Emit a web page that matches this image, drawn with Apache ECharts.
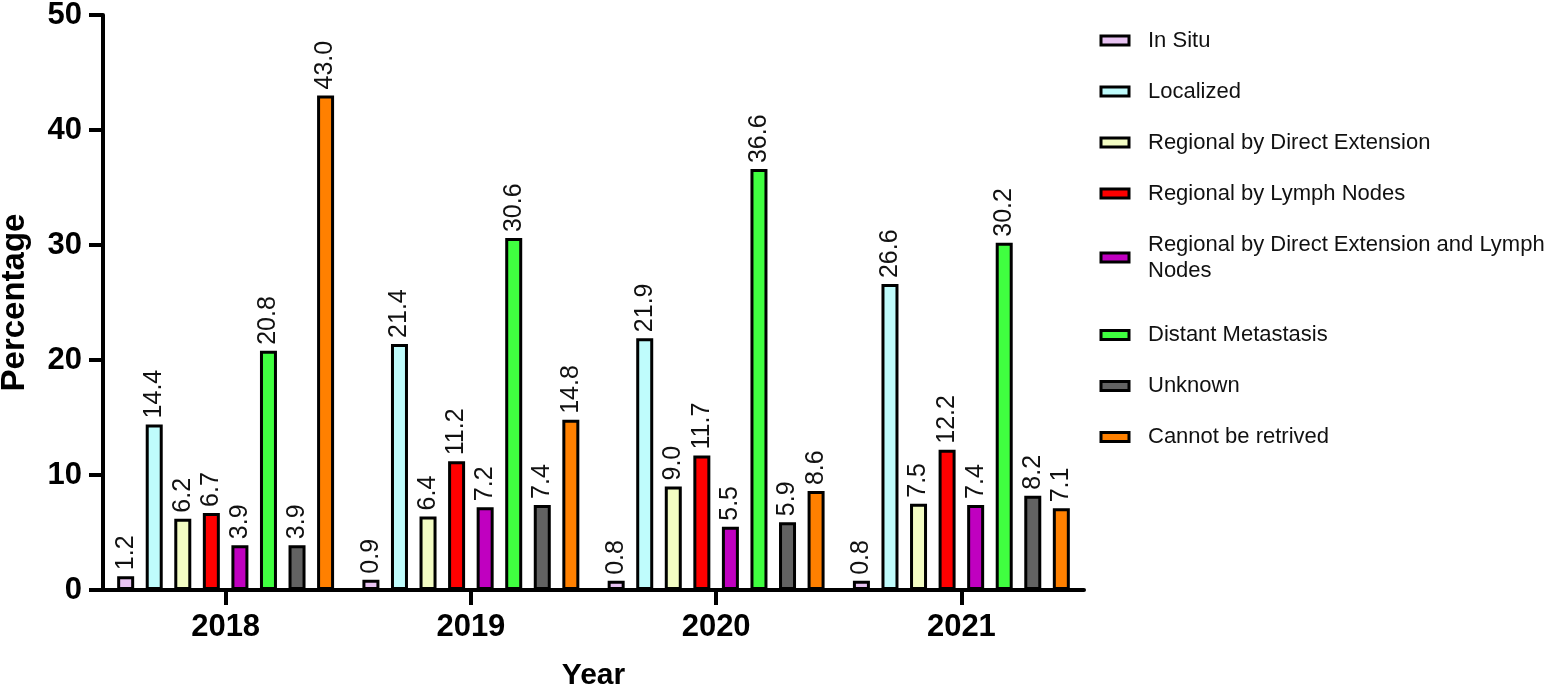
<!DOCTYPE html>
<html lang="en">
  <head>
    <meta charset="UTF-8" />
    <title>Stage by year</title>
    <script src="https://cdn.jsdelivr.net/npm/echarts@6/dist/echarts.min.js"></script>
    <style>
      html, body { margin: 0; padding: 0; background: #fff; }
      #main { width: 1556px; height: 695px; }
    </style>
  </head>
  <body>
    <div id="main"></div>
    <script>
      // data
      var years = ["2018", "2019", "2020", "2021"];
      var stages = [
        "In Situ",
        "Localized",
        "Regional by Direct Extension",
        "Regional by Lymph Nodes",
        "Regional by Direct Extension and Lymph Nodes",
        "Distant Metastasis",
        "Unknown",
        "Cannot be retrived",
      ];
      var inSitu = [1.2, 0.9, 0.8, 0.8];
      var localized = [14.4, 21.4, 21.9, 26.6];
      var regionalDirect = [6.2, 6.4, 9.0, 7.5];
      var regionalLymph = [6.7, 11.2, 11.7, 12.2];
      var regionalBoth = [3.9, 7.2, 5.5, 7.4];
      var distant = [20.8, 30.6, 36.6, 30.2];
      var unknown = [3.9, 7.4, 5.9, 8.2];
      var notRetrived = [43.0, 14.8, 8.6, 7.1];
      var yTicks = [0, 10, 20, 30, 40, 50];

      var values = [inSitu, localized, regionalDirect, regionalLymph, regionalBoth, distant, unknown, notRetrived];
      var colors = ["#E8C3F2", "#BFFCFC", "#F3FCC3", "#FF0000", "#C000C0", "#40FF40", "#626262", "#FF8000"];
      var font = "'Liberation Sans', Arial, sans-serif";

      var myChart = echarts.init(document.getElementById("main"));

      var series = stages.map(function (name, i) {
        return {
          name: name,
          type: "bar",
          data: values[i],
          barWidth: 17,
          barGap: "68%",
          itemStyle: { color: colors[i], borderColor: "#000", borderWidth: 3 },
          label: {
            show: true,
            position: "top",
            rotate: 90,
            align: "left",
            verticalAlign: "middle",
            distance: 6,
            fontFamily: font,
            fontSize: 25,
            color: "#111",
            formatter: function (p) {
              return p.value.toFixed(1);
            },
          },
        };
      });

      var legendBase = {
        orient: "vertical",
        left: 1099.5,
        padding: 0,
        itemWidth: 28,
        itemHeight: 9,
        itemGap: 25,
        icon: "rect",
        itemStyle: { borderColor: "#000", borderWidth: 3 },
        textStyle: { fontFamily: font, fontSize: 22, lineHeight: 26, color: "#111", padding: [0, 0, 0, 14] },
        formatter: function (name) {
          // long name wraps onto a second line
          if (name.length > 40) {
            var k = name.lastIndexOf(" ");
            return name.slice(0, k) + "\n" + name.slice(k + 1);
          }
          return name;
        },
      };

      var option = {
        animation: false,
        backgroundColor: "#fff",
        textStyle: { fontFamily: font },
        grid: { left: 103, right: 472, top: 15, bottom: 105, containLabel: false, outerBoundsMode: "none" },
        legend: [
          Object.assign({}, legendBase, { top: 27.5, data: stages.slice(0, 5) }),
          Object.assign({}, legendBase, { top: 322, data: stages.slice(5) }),
        ],
        xAxis: {
          type: "category",
          data: years,
          name: "Year",
          nameLocation: "middle",
          nameGap: 71,
          nameTextStyle: { fontFamily: font, fontSize: 30, fontWeight: "bold", color: "#000" },
          axisLine: { show: true, lineStyle: { color: "#000", width: 4 } },
          axisTick: { show: true, alignWithLabel: true, interval: 0, length: 15, lineStyle: { color: "#000", width: 4 } },
          axisLabel: { margin: 22, fontFamily: font, fontSize: 31, fontWeight: "bold", color: "#000" },
        },
        yAxis: {
          type: "value",
          min: yTicks[0],
          max: yTicks[yTicks.length - 1],
          interval: 10,
          name: "Percentage",
          nameLocation: "middle",
          nameGap: 72,
          nameTextStyle: { fontFamily: font, fontSize: 33, fontWeight: "bold", color: "#000" },
          axisLine: { show: true, lineStyle: { color: "#000", width: 4 } },
          axisTick: { show: true, length: 14, lineStyle: { color: "#000", width: 4 } },
          axisLabel: { margin: 21, fontFamily: font, fontSize: 31, fontWeight: "bold", color: "#000" },
          splitLine: { show: false },
        },
        series: series,
      };
      myChart.setOption(option);
    </script>
  </body>
</html>
